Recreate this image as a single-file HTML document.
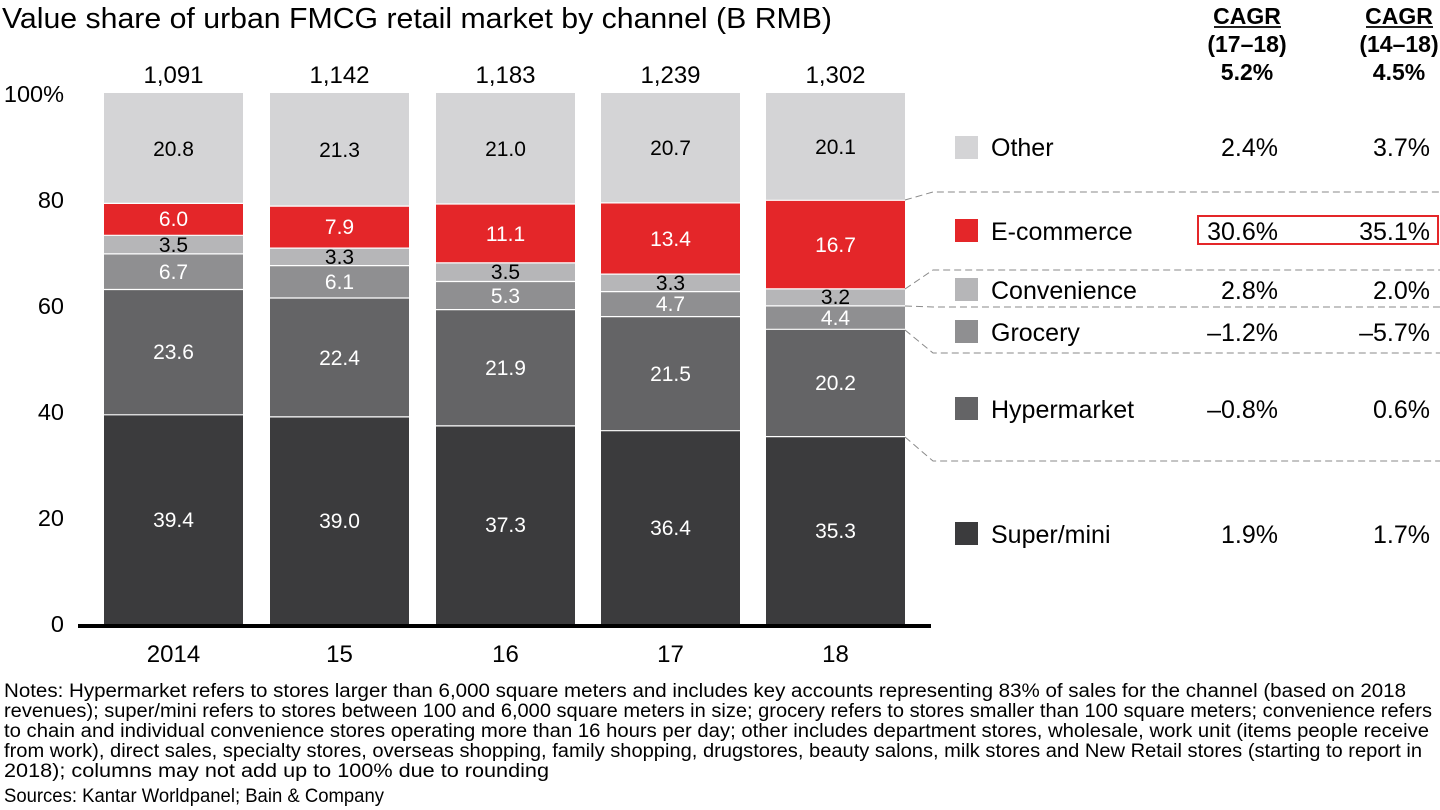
<!DOCTYPE html>
<html><head><meta charset="utf-8"><style>
body{margin:0;background:#fff;}
svg{display:block;font-family:"Liberation Sans",Arial,sans-serif;}
</style></head><body>
<svg width="1440" height="810" viewBox="0 0 1440 810" xmlns="http://www.w3.org/2000/svg">
<text x="2" y="28" font-size="29" fill="#000" textLength="830" lengthAdjust="spacingAndGlyphs">Value share of urban FMCG retail market by channel (B RMB)</text>
<g font-size="23.5" fill="#000" text-anchor="end">
<text x="64" y="102">100%</text>
<text x="64" y="208">80</text>
<text x="64" y="314">60</text>
<text x="64" y="420">40</text>
<text x="64" y="526">20</text>
<text x="64" y="632">0</text>
</g>
<g stroke="none">
<rect x="104" y="414.8" width="139" height="209.2" fill="#3b3b3d"/>
<rect x="104" y="289.5" width="139" height="125.3" fill="#646466"/>
<rect x="104" y="253.9" width="139" height="35.6" fill="#8f8f91"/>
<rect x="104" y="235.3" width="139" height="18.6" fill="#b6b6b8"/>
<rect x="104" y="203.4" width="139" height="31.9" fill="#e42629"/>
<rect x="104" y="93" width="139" height="110.4" fill="#d4d4d6"/>
<rect x="270" y="416.9" width="139" height="207.1" fill="#3b3b3d"/>
<rect x="270" y="298" width="139" height="118.9" fill="#646466"/>
<rect x="270" y="265.6" width="139" height="32.4" fill="#8f8f91"/>
<rect x="270" y="248.1" width="139" height="17.5" fill="#b6b6b8"/>
<rect x="270" y="206.1" width="139" height="42" fill="#e42629"/>
<rect x="270" y="93" width="139" height="113.1" fill="#d4d4d6"/>
<rect x="436" y="425.9" width="139" height="198.1" fill="#3b3b3d"/>
<rect x="436" y="309.6" width="139" height="116.3" fill="#646466"/>
<rect x="436" y="281.5" width="139" height="28.1" fill="#8f8f91"/>
<rect x="436" y="262.9" width="139" height="18.6" fill="#b6b6b8"/>
<rect x="436" y="204" width="139" height="58.9" fill="#e42629"/>
<rect x="436" y="93" width="139" height="111" fill="#d4d4d6"/>
<rect x="601" y="430.7" width="139" height="193.3" fill="#3b3b3d"/>
<rect x="601" y="316.6" width="139" height="114.1" fill="#646466"/>
<rect x="601" y="291.6" width="139" height="25" fill="#8f8f91"/>
<rect x="601" y="274.1" width="139" height="17.5" fill="#b6b6b8"/>
<rect x="601" y="202.9" width="139" height="71.2" fill="#e42629"/>
<rect x="601" y="93" width="139" height="109.9" fill="#d4d4d6"/>
<rect x="766" y="436.6" width="139" height="187.4" fill="#3b3b3d"/>
<rect x="766" y="329.3" width="139" height="107.3" fill="#646466"/>
<rect x="766" y="305.9" width="139" height="23.4" fill="#8f8f91"/>
<rect x="766" y="288.9" width="139" height="17" fill="#b6b6b8"/>
<rect x="766" y="200.3" width="139" height="88.6" fill="#e42629"/>
<rect x="766" y="93" width="139" height="107.3" fill="#d4d4d6"/>
</g>
<g stroke="#fff" stroke-width="1.2">
<line x1="104" x2="243" y1="414.8" y2="414.8"/><line x1="104" x2="243" y1="289.5" y2="289.5"/><line x1="104" x2="243" y1="253.9" y2="253.9"/><line x1="104" x2="243" y1="235.3" y2="235.3"/><line x1="104" x2="243" y1="203.4" y2="203.4"/>
<line x1="270" x2="409" y1="416.9" y2="416.9"/><line x1="270" x2="409" y1="298" y2="298"/><line x1="270" x2="409" y1="265.6" y2="265.6"/><line x1="270" x2="409" y1="248.1" y2="248.1"/><line x1="270" x2="409" y1="206.1" y2="206.1"/>
<line x1="436" x2="575" y1="425.9" y2="425.9"/><line x1="436" x2="575" y1="309.6" y2="309.6"/><line x1="436" x2="575" y1="281.5" y2="281.5"/><line x1="436" x2="575" y1="262.9" y2="262.9"/><line x1="436" x2="575" y1="204" y2="204"/>
<line x1="601" x2="740" y1="430.7" y2="430.7"/><line x1="601" x2="740" y1="316.6" y2="316.6"/><line x1="601" x2="740" y1="291.6" y2="291.6"/><line x1="601" x2="740" y1="274.1" y2="274.1"/><line x1="601" x2="740" y1="202.9" y2="202.9"/>
<line x1="766" x2="905" y1="436.6" y2="436.6"/><line x1="766" x2="905" y1="329.3" y2="329.3"/><line x1="766" x2="905" y1="305.9" y2="305.9"/><line x1="766" x2="905" y1="288.9" y2="288.9"/><line x1="766" x2="905" y1="200.3" y2="200.3"/>
</g>
<rect x="78" y="624" width="853" height="4" fill="#000"/>
<g font-size="21" text-anchor="middle">
<g fill="#fff">
<text x="173.5" y="527">39.4</text><text x="173.5" y="359">23.6</text><text x="173.5" y="279">6.7</text><text x="173.5" y="226">6.0</text>
<text x="339.5" y="528">39.0</text><text x="339.5" y="365">22.4</text><text x="339.5" y="289">6.1</text><text x="339.5" y="234">7.9</text>
<text x="505.5" y="532">37.3</text><text x="505.5" y="375">21.9</text><text x="505.5" y="303">5.3</text><text x="505.5" y="241">11.1</text>
<text x="670.5" y="535">36.4</text><text x="670.5" y="381">21.5</text><text x="670.5" y="311">4.7</text><text x="670.5" y="246">13.4</text>
<text x="835.5" y="538">35.3</text><text x="835.5" y="390">20.2</text><text x="835.5" y="325">4.4</text><text x="835.5" y="252">16.7</text>
</g>
<g fill="#000">
<text x="173.5" y="252">3.5</text><text x="173.5" y="156">20.8</text>
<text x="339.5" y="264">3.3</text><text x="339.5" y="157">21.3</text>
<text x="505.5" y="279">3.5</text><text x="505.5" y="156">21.0</text>
<text x="670.5" y="290">3.3</text><text x="670.5" y="155">20.7</text>
<text x="835.5" y="304">3.2</text><text x="835.5" y="154">20.1</text>
</g>
</g>
<g font-size="24" text-anchor="middle" fill="#000">
<text x="173.5" y="83">1,091</text><text x="339.5" y="83">1,142</text><text x="505.5" y="83">1,183</text><text x="670.5" y="83">1,239</text><text x="835.5" y="83">1,302</text>
<text x="173.5" y="662">2014</text><text x="339.5" y="662">15</text><text x="505.5" y="662">16</text><text x="670.5" y="662">17</text><text x="835.5" y="662">18</text>
</g>
<g stroke="#8a8a8a" stroke-width="1" stroke-dasharray="7,4" fill="none">
<polyline points="905,200 933,192 1440,192"/>
<polyline points="905,289 933,270 1440,270"/>
<polyline points="905,306 933,307 1440,307"/>
<polyline points="905,330 933,353 1440,353"/>
<polyline points="905,437 933,461 1440,461"/>
</g>
<g font-size="23" font-weight="bold" text-anchor="middle" fill="#000">
<text x="1247" y="24">CAGR</text>
<text x="1247" y="52">(17–18)</text>
<text x="1247" y="80">5.2%</text>
<text x="1399" y="24">CAGR</text>
<text x="1399" y="52">(14–18)</text>
<text x="1399" y="80">4.5%</text>
</g>
<line x1="1214" x2="1281" y1="27" y2="27" stroke="#000" stroke-width="1.8"/>
<line x1="1366" x2="1433" y1="27" y2="27" stroke="#000" stroke-width="1.8"/>
<rect x="955" y="136" width="23" height="23" fill="#d4d4d6"/>
<rect x="955" y="219" width="23" height="23" fill="#e42629"/>
<rect x="955" y="278" width="23" height="23" fill="#b6b6b8"/>
<rect x="955" y="320" width="23" height="23" fill="#8f8f91"/>
<rect x="955" y="397" width="23" height="23" fill="#646466"/>
<rect x="955" y="522" width="23" height="23" fill="#3b3b3d"/>
<g font-size="25" fill="#000">
<text x="991" y="156">Other</text>
<text x="991" y="240">E-commerce</text>
<text x="991" y="299">Convenience</text>
<text x="991" y="341">Grocery</text>
<text x="991" y="418">Hypermarket</text>
<text x="991" y="543">Super/mini</text>
</g>
<g font-size="25" fill="#000" text-anchor="end">
<text x="1278" y="156">2.4%</text><text x="1430" y="156">3.7%</text>
<text x="1278" y="240">30.6%</text><text x="1430" y="240">35.1%</text>
<text x="1278" y="299">2.8%</text><text x="1430" y="299">2.0%</text>
<text x="1278" y="341">–1.2%</text><text x="1430" y="341">–5.7%</text>
<text x="1278" y="418">–0.8%</text><text x="1430" y="418">0.6%</text>
<text x="1278" y="543">1.9%</text><text x="1430" y="543">1.7%</text>
</g>
<rect x="1198" y="216" width="240" height="28" fill="none" stroke="#e42629" stroke-width="2"/>
<g font-size="19" fill="#000" lengthAdjust="spacingAndGlyphs">
<text x="4" y="697" textLength="1402" lengthAdjust="spacingAndGlyphs">Notes: Hypermarket refers to stores larger than 6,000 square meters and includes key accounts representing 83% of sales for the channel (based on 2018</text>
<text x="4" y="717" textLength="1428" lengthAdjust="spacingAndGlyphs">revenues); super/mini refers to stores between 100 and 6,000 square meters in size; grocery refers to stores smaller than 100 square meters; convenience refers</text>
<text x="4" y="737" textLength="1425" lengthAdjust="spacingAndGlyphs">to chain and individual convenience stores operating more than 16 hours per day; other includes department stores, wholesale, work unit (items people receive</text>
<text x="4" y="757" textLength="1418" lengthAdjust="spacingAndGlyphs">from work), direct sales, specialty stores, overseas shopping, family shopping, drugstores, beauty salons, milk stores and New Retail stores (starting to report in</text>
<text x="4" y="777" textLength="545" lengthAdjust="spacingAndGlyphs">2018); columns may not add up to 100% due to rounding</text>
<text x="4" y="802" textLength="380" lengthAdjust="spacingAndGlyphs">Sources: Kantar Worldpanel; Bain &amp; Company</text>
</g>
</svg>
</body></html>
